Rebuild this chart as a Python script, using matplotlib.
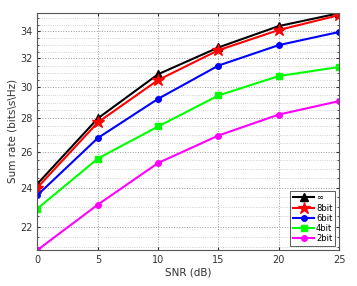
import matplotlib.pyplot as plt
import numpy as np
from matplotlib.ticker import FixedLocator, NullFormatter

snr = [0, 5, 10, 15, 20, 25]
rate_inf = [24.2, 28.0, 30.9, 32.8, 34.4, 35.4]
rate_8bit = [24.0, 27.75, 30.5, 32.6, 34.1, 35.25]
rate_6bit = [23.6, 26.8, 29.25, 31.5, 32.97, 33.95]
rate_4bit = [22.9, 25.6, 27.5, 29.47, 30.77, 31.4]
rate_2bit = [20.88, 23.1, 25.35, 26.95, 28.24, 29.1]
labels = ['\u221e', '8bit', '6bit', '4bit', '2bit']

fig = plt.figure(figsize=(3.57, 2.86), dpi=100)
ax = fig.add_axes([0.105, 0.126, 0.845, 0.83])

ax.semilogy(snr, rate_inf, 'k-^', lw=1.5, ms=6, label=labels[0])
ax.semilogy(snr, rate_8bit, 'r-*', lw=1.5, ms=9, label=labels[1])
ax.semilogy(snr, rate_6bit, 'b-o', lw=1.5, ms=4, label=labels[2])
ax.semilogy(snr, rate_4bit, '-s', color='#00ff00', lw=1.5, ms=4, label=labels[3])
ax.semilogy(snr, rate_2bit, '-o', color='#ff00ff', lw=1.5, ms=4, label=labels[4])

ax.set_xlim(0, 25)
ax.set_ylim(20.88, 35.45)
ax.set_xticks(snr)
ax.yaxis.set_major_locator(FixedLocator([22, 24, 26, 28, 30, 32, 34]))
ax.yaxis.set_major_formatter(plt.FuncFormatter(lambda v, p: '%d' % v))
ax.yaxis.set_minor_locator(FixedLocator(np.arange(21, 35.6, 0.5)))
ax.yaxis.set_minor_formatter(NullFormatter())

ax.grid(True, which='major', ls=':', color='#999999', lw=0.7)
ax.grid(True, which='minor', axis='y', ls=':', color='#c4c4c4', lw=0.6)
ax.tick_params(which='both', direction='in', top=True, right=True,
               labelsize=7, colors='#333333', length=2.5)
ax.tick_params(which='minor', length=1.5)
for s in ax.spines.values():
    s.set_color('#555555')
    s.set_linewidth(0.8)

ax.set_xlabel('SNR (dB)', fontsize=7.5, color='#333333', labelpad=2)
ax.set_ylabel('Sum rate (bits\\s\\Hz)', fontsize=7.5, color='#333333', labelpad=2)

leg = ax.legend(loc='lower right', fontsize=6, handlelength=2.6, borderpad=0.3,
                labelspacing=0.15, handletextpad=0.2, fancybox=False,
                borderaxespad=0.5)
leg.get_frame().set_edgecolor('#333333')
leg.get_frame().set_linewidth(0.7)

fig.savefig('out.png', dpi=100)
